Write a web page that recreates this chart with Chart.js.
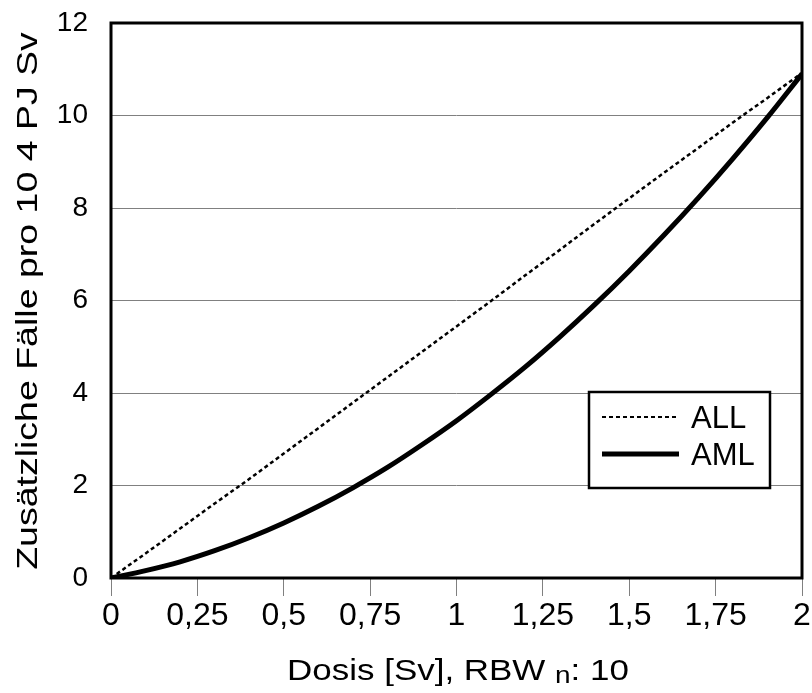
<!DOCTYPE html>
<html>
<head>
<meta charset="utf-8">
<script src="https://cdn.jsdelivr.net/npm/chart.js@4/dist/chart.umd.min.js"></script>
<style>
  html, body { margin: 0; padding: 0; background: #fff; }
  #wrap { width: 812px; height: 693px; }
</style>
</head>
<body>
<div id="wrap"><canvas id="riskChart" width="812" height="693"></canvas></div>
<script>
// Dosis in Sv
const doses = [0, 0.1, 0.2, 0.3, 0.4, 0.5, 0.6, 0.7, 0.8, 0.9, 1.0,
               1.1, 1.2, 1.3, 1.4, 1.5, 1.6, 1.7, 1.8, 1.9, 2.0];
// zusätzliche Fälle pro 10^4 PJ Sv
const allCases = [0, 0.53, 1.07, 1.61, 2.14, 2.69, 3.24, 3.79, 4.34, 4.89, 5.44,
                  5.99, 6.55, 7.10, 7.66, 8.21, 8.76, 9.30, 9.85, 10.38, 10.92];
const amlCases = [0, 0.16, 0.35, 0.59, 0.87, 1.19, 1.55, 1.95, 2.39, 2.88, 3.40,
                  3.97, 4.57, 5.22, 5.91, 6.64, 7.41, 8.22, 9.07, 9.96, 10.90];
const seriesNames = ["ALL", "AML"];
const xTicks = [0, 0.25, 0.5, 0.75, 1, 1.25, 1.5, 1.75, 2];
const yTicks = [0, 2, 4, 6, 8, 10, 12];

const FONT = "'Liberation Sans', Arial, sans-serif";

function toPoints(values) {
    return doses.map((d, i) => ({ x: d, y: values[i] }));
}

function comma(v) {
    return String(v).replace(".", ",");
}

// frame, axis titles and legend box
const decorations = {
    id: "decorations",
    afterDatasetsDraw(chart) {
        const ctx = chart.ctx;
        const a = chart.chartArea;

        // plot frame
        ctx.save();
        ctx.strokeStyle = "#000";
        ctx.lineWidth = 3;
        ctx.strokeRect(a.left, a.top, a.right - a.left, a.bottom - a.top);
        ctx.restore();

        // legend
        const bx = a.left + 478, by = a.top + 369, bw = 181, bh = 96;
        ctx.save();
        ctx.fillStyle = "#fff";
        ctx.fillRect(bx, by, bw, bh);
        ctx.strokeStyle = "#000";
        ctx.lineWidth = 2.5;
        ctx.strokeRect(bx, by, bw, bh);
        ctx.font = "31px " + FONT;
        ctx.textBaseline = "middle";
        ctx.fillStyle = "#000";
        chart.data.datasets.forEach((ds, i) => {
            const ly = by + 25 + i * 37;
            ctx.beginPath();
            ctx.setLineDash(i === 0 ? [4, 3] : []);
            ctx.lineWidth = i === 0 ? 2 : 5;
            ctx.moveTo(bx + 13, ly);
            ctx.lineTo(bx + 90, ly);
            ctx.stroke();
            ctx.setLineDash([]);
            ctx.fillText(ds.label, bx + 102, ly + 2);
        });
        ctx.restore();

        // y axis title
        ctx.save();
        ctx.fillStyle = "#000";
        ctx.font = "30px " + FONT;
        ctx.textAlign = "center";
        ctx.textBaseline = "alphabetic";
        ctx.translate(37, 301);
        ctx.rotate(-Math.PI / 2);
        ctx.scale(1.25, 1);
        ctx.fillText("Zusätzliche Fälle pro 10 4 PJ Sv", 0, 0);
        ctx.restore();

        // x axis title with subscript n
        ctx.save();
        ctx.fillStyle = "#000";
        ctx.textBaseline = "alphabetic";
        const big = "30px " + FONT, small = "24px " + FONT;
        const p1 = "Dosis [Sv], RBW ", p2 = "n", p3 = ": 10";
        ctx.font = big;
        const w1 = ctx.measureText(p1).width, w3 = ctx.measureText(p3).width;
        ctx.font = small;
        const w2 = ctx.measureText(p2).width;
        const sx = 1.165;
        const total = (w1 + w2 + w3) * sx;
        ctx.translate(458 - total / 2, 680);
        ctx.scale(sx, 1);
        ctx.font = big;
        ctx.fillText(p1, 0, 0);
        ctx.font = small;
        ctx.fillText(p2, w1, 3);
        ctx.font = big;
        ctx.fillText(p3, w1 + w2, 0);
        ctx.restore();
    }
};

new Chart(document.getElementById("riskChart").getContext("2d"), {
    type: "line",
    data: {
        datasets: [
            {
                label: seriesNames[0],
                data: toPoints(allCases),
                borderColor: "#000",
                borderWidth: 2.5,
                borderDash: [4, 3],
                pointRadius: 0,
                tension: 0,
                fill: false
            },
            {
                label: seriesNames[1],
                data: toPoints(amlCases),
                borderColor: "#000",
                borderWidth: 5,
                pointRadius: 0,
                cubicInterpolationMode: "monotone",
                fill: false
            }
        ]
    },
    options: {
        responsive: false,
        animation: false,
        layout: { padding: { left: 0, right: 10, top: 23, bottom: 0 } },
        plugins: {
            legend: { display: false },
            tooltip: { enabled: false }
        },
        scales: {
            x: {
                type: "linear",
                min: 0,
                max: 2,
                afterBuildTicks: s => { s.ticks = xTicks.map(v => ({ value: v })); },
                afterFit: s => { s.height = 115; s.paddingLeft = 0; s.paddingRight = 0; },
                ticks: {
                    color: "#000",
                    font: { family: FONT, size: 32 },
                    padding: 1,
                    maxRotation: 0,
                    autoSkip: false,
                    callback: v => comma(v)
                },
                grid: {
                    drawOnChartArea: false,
                    drawTicks: true,
                    tickLength: 18,
                    color: "#808080",
                    lineWidth: 1
                },
                border: { display: false },
                title: { display: false }
            },
            y: {
                type: "linear",
                min: 0,
                max: 12,
                afterBuildTicks: s => { s.ticks = yTicks.map(v => ({ value: v })); },
                afterFit: s => { s.width = 111; s.paddingTop = 0; s.paddingBottom = 0; },
                ticks: {
                    color: "#000",
                    font: { family: FONT, size: 28 },
                    padding: 23,
                    callback: v => comma(v)
                },
                grid: {
                    drawTicks: false,
                    color: "#808080",
                    lineWidth: 1
                },
                border: { display: false },
                title: { display: false }
            }
        }
    },
    plugins: [decorations]
});
</script>
</body>
</html>
